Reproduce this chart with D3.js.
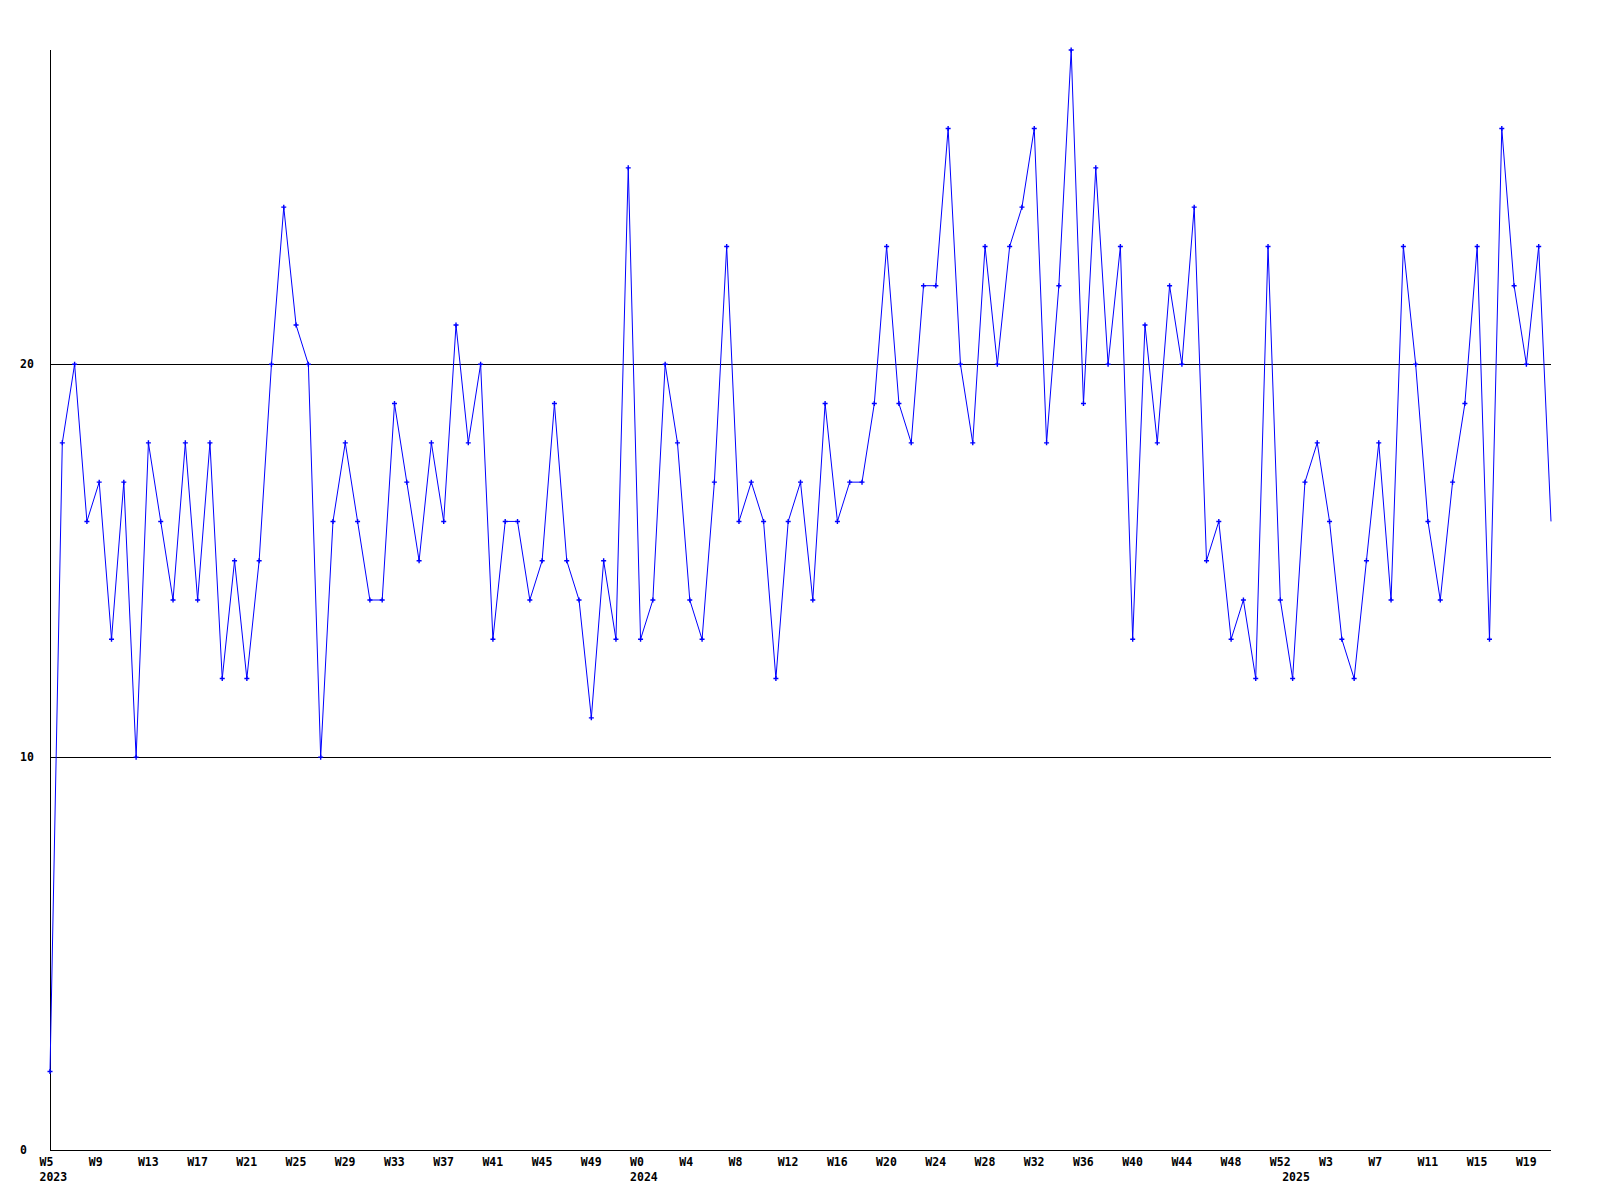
<!DOCTYPE html>
<html>
<head>
<meta charset="utf-8">
<script src="https://cdn.jsdelivr.net/npm/d3@7/dist/d3.min.js"></script>
<style>
  html, body { margin: 0; padding: 0; background: #ffffff; }
  svg { display: block; }
  text { font-family: "DejaVu Sans Mono", "Liberation Mono", monospace; font-weight: bold; font-size: 11.5px; fill: #000; }
</style>
</head>
<body>
<svg id="chart" width="1600" height="1200"></svg>
<script>
// Week categories (year, week label)
const weeks2023 = ["W5","W6","W7","W8","W9","W10","W11","W12","W13","W14","W15","W16","W17","W18","W19","W20","W21","W22","W23","W24","W25","W26","W27","W28","W29","W30","W31","W32","W33","W34","W35","W36","W37","W38","W39","W40","W41","W42","W43","W44","W45","W46","W47","W48","W49","W50","W51","W52"];
const weeks2024 = ["W0","W1","W2","W3","W4","W5","W6","W7","W8","W9","W10","W11","W12","W13","W14","W15","W16","W17","W18","W19","W20","W21","W22","W23","W24","W25","W26","W27","W28","W29","W30","W31","W32","W33","W34","W35","W36","W37","W38","W39","W40","W41","W42","W43","W44","W45","W46","W47","W48","W49","W50","W51","W52"];
const weeks2025 = ["W0","W1","W2","W3","W4","W5","W6","W7","W8","W9","W10","W11","W12","W13","W14","W15","W16","W17","W18","W19","W20","W21"];
const years = ["2023","2024","2025"];

// Weekly values
const values = [
  2,18,20,16,17,13,17,10,18,16,14,18,14,18,12,15,12,15,20,24,21,20,10,16,18,16,14,14,19,17,15,18,16,21,18,20,13,16,16,14,15,19,15,14,11,15,13,25,
  13,14,20,18,14,13,17,23,16,17,16,12,16,17,14,19,16,17,17,19,23,19,18,22,22,26,20,18,23,20,23,24,26,18,22,28,19,25,20,23,13,21,18,22,20,24,15,16,13,14,12,23,14,
  12,17,18,16,13,12,15,18,14,23,20,16,14,17,19,23,13,26,22,20,23,16
];

// Axis ticks
const yTicks = [0, 10, 20];
const gridValues = [10, 20];
const xTickLabels = ["W5","W9","W13","W17","W21","W25","W29","W33","W37","W41","W45","W49","W0","W4","W8","W12","W16","W20","W24","W28","W32","W36","W40","W44","W48","W52","W3","W7","W11","W15","W19"];

(function () {
  const cats = [];
  [weeks2023, weeks2024, weeks2025].forEach((ws, yi) => ws.forEach(w => cats.push({ key: years[yi] + "-" + w, year: years[yi], week: w })));
  const data = cats.map((c, i) => ({ ...c, value: values[i] }));

  const svg = d3.select("#chart");
  const mLeft = 50, mRight = 1551, mTop = 50, mBottom = 1150;

  const x = d3.scalePoint().domain(cats.map(c => c.key)).range([mLeft, mRight]);
  const y = d3.scaleLinear().domain([0, 28]).range([mBottom, mTop]);

  // gridlines
  svg.append("g").selectAll("line").data(gridValues).join("line")
    .attr("x1", mLeft).attr("x2", mRight)
    .attr("y1", d => Math.round(y(d)) + 0.5).attr("y2", d => Math.round(y(d)) + 0.5)
    .attr("stroke", "#000").attr("stroke-width", 1).attr("shape-rendering", "crispEdges");

  // axes lines
  svg.append("line").attr("x1", mLeft + 0.5).attr("x2", mLeft + 0.5).attr("y1", mTop).attr("y2", mBottom + 0.5)
    .attr("stroke", "#000").attr("shape-rendering", "crispEdges");
  svg.append("line").attr("x1", mLeft).attr("x2", mRight).attr("y1", mBottom + 0.5).attr("y2", mBottom + 0.5)
    .attr("stroke", "#000").attr("shape-rendering", "crispEdges");

  // y labels
  svg.append("g").selectAll("text").data(yTicks).join("text")
    .attr("x", 20).attr("y", d => y(d)).attr("dy", "0.35em")
    .attr("text-anchor", "start").text(d => d);

  // x tick labels: every 4th category
  const labelled = data.filter((d, i) => i % 4 === 0);
  svg.append("g").selectAll("text").data(labelled).join("text")
    .attr("x", d => x(d.key) - 10.5).attr("y", 1162).attr("dy", "0.35em")
    .attr("text-anchor", "start")
    .text((d, i) => xTickLabels[i]);

  // year labels at first week of each year
  const firstOfYear = years.map(yr => data.find(d => d.year === yr));
  svg.append("g").selectAll("text").data(firstOfYear).join("text")
    .attr("x", d => x(d.key) - 10.5).attr("y", 1177).attr("dy", "0.35em")
    .attr("text-anchor", "start").text(d => d.year);

  // line
  const line = d3.line().x(d => x(d.key)).y(d => y(d.value));
  svg.append("path").datum(data).attr("d", line)
    .attr("fill", "none").attr("stroke", "#0000ff").attr("stroke-width", 1);

  // markers (no marker on last point)
  svg.append("g").selectAll("path").data(data.slice(0, -1)).join("path")
    .attr("transform", d => `translate(${x(d.key)},${y(d.value)})`)
    .attr("d", "M-2.5,0H2.5M0,-2.5V2.5")
    .attr("stroke", "#0000ff").attr("stroke-width", 1.4).attr("fill", "none");
})();
</script>
</body>
</html>
